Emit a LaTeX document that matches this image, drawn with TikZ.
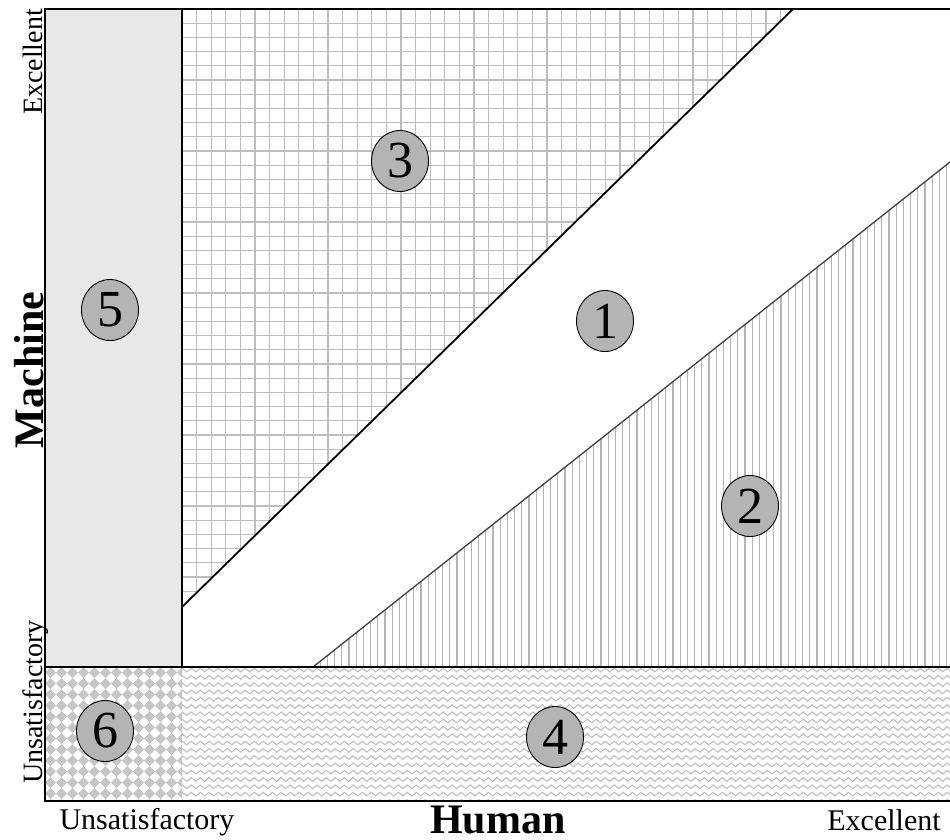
\documentclass[tikz,border=0pt]{standalone}
\usepackage{fontspec}
\setmainfont{Liberation Serif}
\usetikzlibrary{shapes.geometric}
\definecolor{regfive}{HTML}{E8E8E8}
\definecolor{gridgray}{HTML}{BDBDBD}
\definecolor{stripegray}{HTML}{B4B4B4}
\definecolor{wavegray}{HTML}{BEBEBE}
\definecolor{diamgray}{HTML}{C6C6C6}
\definecolor{badgefill}{HTML}{B4B4B4}
\definecolor{diagtwo}{HTML}{404040}
\begin{document}
\begin{tikzpicture}[x=1pt,y=1pt,
  gridline/.style={draw=gridgray, line width=1.3pt},
  stripe/.style={draw=stripegray, line width=1.2pt},
  waveline/.style={draw=wavegray, line width=1.1pt},
  diam/.style={fill=diamgray},
  frame/.style={draw=black, line width=1.4pt},
  diagthree/.style={draw=black, line width=1.8pt},
  diagtwostyle/.style={draw=diagtwo, line width=1.3pt},
  badge/.style={ellipse, draw=black, line width=0.9pt, fill=badgefill,
    minimum width=57pt, minimum height=61pt, inner sep=0pt,
    font=\fontsize{52}{52}\selectfont},
  smalllbl/.style={font=\fontsize{28}{28}\selectfont, inner sep=0pt},
  botlbl/.style={font=\fontsize{30}{30}\selectfont, inner sep=0pt},
  biglbl/.style={font=\fontsize{42}{42}\selectfont\bfseries, inner sep=0pt}
]
\useasboundingbox (0,0) rectangle (950,-839);
\fill[white] (0,0) rectangle (950,-839);

% region 5
\fill[regfive] (45,-9) rectangle (182,-667);

% region 3 grid
\begin{scope}
  \clip (182,-9) -- (793,-9) -- (182,-607) -- cycle;
  \foreach \i in {1,...,42} \draw[gridline] ({182+14.6*\i},-9) -- ++(0,-600);
  \foreach \i in {1,...,43} \draw[gridline] (182,{-9-14.2*\i}) -- ++(620,0);
\end{scope}

% region 2 stripes
\begin{scope}
  \clip (313,-667) -- (952,-160) -- (952,-667) -- cycle;
  \foreach \i in {0,...,90} \draw[stripe] ({313+7.2*\i},-150) -- ++(0,-520);
\end{scope}

% region 4 waves
\begin{scope}
  \clip (182,-667) rectangle (952,-801);
  \foreach \i in {0,...,18}
    \draw[waveline] (180,{-670-7.3*\i}) \foreach \k in {1,...,87} { sin ++(2.25,1.8) cos ++(2.25,-1.8) sin ++(2.25,-1.8) cos ++(2.25,1.8) };
\end{scope}

% region 6 diamonds
\begin{scope}
  \clip (45,-667) rectangle (182,-801);
  \foreach \i in {0,...,13}
    \foreach \j in {0,...,13}
      \fill[diam] ({45+11*\i},{-667-5.5-11*\j}) -- ++(5.5,5.5) -- ++(5.5,-5.5) -- ++(-5.5,-5.5) -- cycle;
\end{scope}

% lines
\draw[diagtwostyle] (313,-667) -- (952,-160.4);
\draw[diagthree] (182,-607) -- (793,-9);
\draw[frame] (182,-9) -- (182,-667);
\draw[frame] (45,-667) -- (952,-667);
\draw[frame] (952,-9) -- (45,-9) -- (45,-801) -- (952,-801);

% badges
\node[badge] (b1) at (605,-321) {1};
\node[badge] (b2) at (750,-506) {2};
\node[badge] (b3) at (400,-161) {3};
\node[badge] (b4) at (555,-737) {4};
\node[badge] (b5) at (110,-310) {5};
\node[badge] (b6) at (105,-731) {6};

% axis labels
\node[smalllbl, rotate=90, anchor=base] (mexc) at (42,-62) {Excellent};
\node[smalllbl, rotate=90, anchor=base] (muns) at (42,-702) {Unsatisfactory};
\node[biglbl, rotate=90, anchor=base] (mach) at (43,-370) {Machine};
\node[botlbl, anchor=base] (huns) at (147,-829) {Unsatisfactory};
\node[botlbl, anchor=base] (hexc) at (884,-830) {Excellent};
\node[biglbl, anchor=base] (hum) at (498,-833) {Human};
\end{tikzpicture}
\end{document}
